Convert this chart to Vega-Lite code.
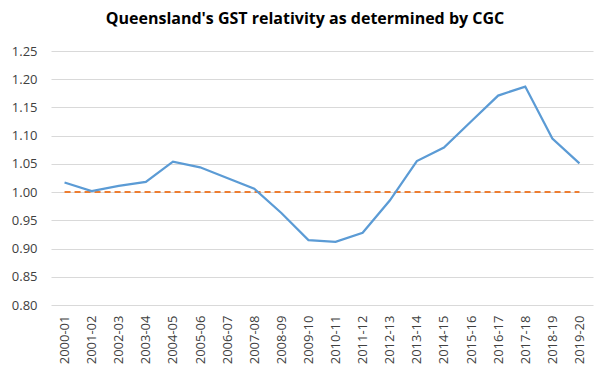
{
  "$schema": "https://vega.github.io/schema/vega-lite/v6.json",
  "width": 542,
  "height": 254,
  "autosize": "none",
  "padding": {"left": 51, "top": 51, "right": 16, "bottom": 73},
  "background": "white",
  "title": {
    "text": "Queensland's GST relativity as determined by CGC",
    "font": "Open Sans",
    "fontSize": 16,
    "fontWeight": "bold",
    "color": "#000000",
    "anchor": "middle",
    "dx": -17,
    "offset": 18
  },
  "config": {
    "view": {"stroke": null},
    "axis": {
      "labelFont": "Open Sans",
      "labelFontSize": 13,
      "labelColor": "#404040",
      "gridColor": "#d9d9d9",
      "domain": false,
      "ticks": false,
      "labelOverlap": false
    }
  },
  "data": {
    "values": [
      {"year": "2000-01", "rel": 1.017, "base": 1.0},
      {"year": "2001-02", "rel": 1.002, "base": 1.0},
      {"year": "2002-03", "rel": 1.011, "base": 1.0},
      {"year": "2003-04", "rel": 1.018, "base": 1.0},
      {"year": "2004-05", "rel": 1.054, "base": 1.0},
      {"year": "2005-06", "rel": 1.044, "base": 1.0},
      {"year": "2006-07", "rel": 1.025, "base": 1.0},
      {"year": "2007-08", "rel": 1.006, "base": 1.0},
      {"year": "2008-09", "rel": 0.963, "base": 1.0},
      {"year": "2009-10", "rel": 0.915, "base": 1.0},
      {"year": "2010-11", "rel": 0.912, "base": 1.0},
      {"year": "2011-12", "rel": 0.928, "base": 1.0},
      {"year": "2012-13", "rel": 0.985, "base": 1.0},
      {"year": "2013-14", "rel": 1.055, "base": 1.0},
      {"year": "2014-15", "rel": 1.079, "base": 1.0},
      {"year": "2015-16", "rel": 1.125, "base": 1.0},
      {"year": "2016-17", "rel": 1.171, "base": 1.0},
      {"year": "2017-18", "rel": 1.187, "base": 1.0},
      {"year": "2018-19", "rel": 1.095, "base": 1.0},
      {"year": "2019-20", "rel": 1.051, "base": 1.0}
    ]
  },
  "encoding": {
    "x": {
      "field": "year",
      "type": "ordinal",
      "scale": {"type": "point", "padding": 0.5},
      "axis": {"title": null, "labelAngle": 270, "labelPadding": 10, "grid": false}
    }
  },
  "layer": [
    {
      "mark": {"type": "line", "color": "#ed7d31", "strokeWidth": 2, "strokeDash": [6, 4]},
      "encoding": {
        "y": {
          "field": "base",
          "type": "quantitative",
          "scale": {"domain": [0.8, 1.25], "nice": false, "zero": false},
          "axis": {
            "title": null,
            "values": [0.8, 0.85, 0.9, 0.95, 1.0, 1.05, 1.1, 1.15, 1.2, 1.25],
            "format": ".2f",
            "labelPadding": 14,
            "grid": true
          }
        }
      }
    },
    {
      "mark": {"type": "line", "color": "#5b9bd5", "strokeWidth": 2.25},
      "encoding": {
        "y": {
          "field": "rel",
          "type": "quantitative",
          "scale": {"domain": [0.8, 1.25], "nice": false, "zero": false},
          "axis": {
            "title": null,
            "values": [0.8, 0.85, 0.9, 0.95, 1.0, 1.05, 1.1, 1.15, 1.2, 1.25],
            "format": ".2f",
            "labelPadding": 14,
            "grid": true
          }
        }
      }
    }
  ]
}
